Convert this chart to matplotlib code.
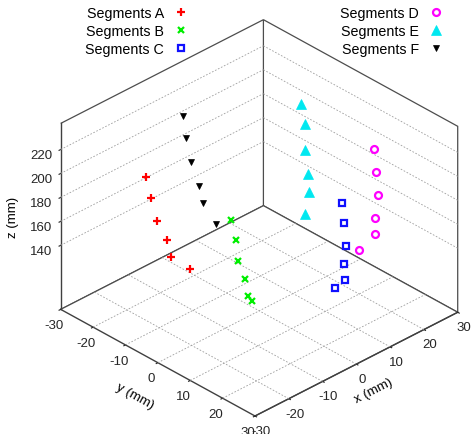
import numpy as np
import matplotlib
matplotlib.use('Agg')
import matplotlib.pyplot as plt

plt.rcParams['font.family'] = ['Liberation Sans', 'DejaVu Sans']
plt.rcParams['axes.unicode_minus'] = False

# ---------------- data (mm) ----------------
seg_a_x = [-25.0, -23.3, -21.6, -18.8, -17.6, -12.0]
seg_a_y = [-9.0, -9.0, -9.0, -9.0, -9.0, -9.0]
seg_a_z = [220.7, 201.0, 179.7, 159.8, 143.9, 125.8]

seg_b_x = [-19.8, -18.5, -17.7, -15.7, -14.9, -13.5]
seg_b_y = [12.0, 12.0, 12.0, 12.0, 12.0, 12.0]
seg_b_z = [208.9, 189.8, 171.6, 153.5, 138.1, 132.2]

seg_c_x = [7.3, 7.8, 8.3, 7.7, 8.2, 5.3]
seg_c_y = [18.0, 18.0, 18.0, 18.0, 18.0, 18.0]
seg_c_z = [192.5, 175.1, 155.6, 141.5, 127.3, 124.3]

seg_d_x = [16.6, 17.4, 17.9, 17.0, 17.0, 12.4]
seg_d_y = [18.0, 18.0, 18.0, 18.0, 18.0, 18.0]
seg_d_z = [224.2, 203.8, 183.7, 166.4, 152.8, 146.4]

seg_e_x = [18.0, 19.2, 19.4, 20.2, 20.4, 19.2]
seg_e_y = [-6.0, -6.0, -6.0, -6.0, -6.0, -6.0]
seg_e_z = [224.3, 205.6, 184.1, 162.3, 147.3, 130.9]

seg_f_x = [-5.4, -4.5, -2.8, -0.6, 0.6, 4.5]
seg_f_y = [-18.0, -18.0, -18.0, -18.0, -18.0, -18.0]
seg_f_z = [230.6, 210.8, 187.7, 165.0, 148.8, 126.1]

series_names = ['Segments A', 'Segments B', 'Segments C',
                'Segments D', 'Segments E', 'Segments F']

x_ticks = [-30, -20, -10, 0, 10, 20, 30]
y_ticks = [-30, -20, -10, 0, 10, 20, 30]
z_ticks = [140, 160, 180, 200, 220]
x_range = (-30, 30)
y_range = (-30, 30)
z_range = (86.5, 241.8)

# ---------------- figure ----------------
W, H = 477, 435
fig = plt.figure(figsize=(W / 100, H / 100), dpi=100)
ax = fig.add_axes([0, 0, 1, 1], projection='3d', proj_type='ortho',
                  computed_zorder=False)
ax.set_xlim(*x_range)
ax.set_ylim(y_range[1], y_range[0])   # reversed y, as in the reference
ax.set_zlim(*z_range)
ax.view_init(elev=32, azim=-134)
ax.set_box_aspect((281.8, 279.7, 219.3))

edge_col = '0.25'
for axis in (ax.xaxis, ax.yaxis, ax.zaxis):
    axis.set_pane_color((1, 1, 1, 1))
    axis.pane.set_edgecolor('0.3')
    axis.pane.set_linewidth(0.9)
    axis.line.set_color(edge_col)
    axis.line.set_linewidth(1.0)
    axis._axinfo['tick']['inward_factor'] = 0.1
    axis._axinfo['tick']['outward_factor'] = 0.0
    axis._axinfo['tick']['color'] = edge_col
ax.grid(False)

ax.set_xticks(x_ticks)
ax.set_yticks(y_ticks)
ax.set_zticks(z_ticks)
ax.tick_params(labelsize=9.5, colors='0.15')
ax.xaxis.set_tick_params(pad=-3)
ax.yaxis.set_tick_params(pad=-2.5)
ax.zaxis.set_tick_params(pad=0)

# grid lines: floor (x and y) and back walls (z)
gkw = dict(color='0.62', lw=0.6, ls=(0, (2, 2)), zorder=1)
zf = z_range[0]
for xv in x_ticks[1:-1]:
    ax.plot([xv, xv], list(y_range), [zf, zf], **gkw)
for yv in y_ticks[1:-1]:
    ax.plot(list(x_range), [yv, yv], [zf, zf], **gkw)
for zv in z_ticks:
    ax.plot(list(x_range), [y_range[0]] * 2, [zv, zv], **gkw)
    ax.plot([x_range[1]] * 2, list(y_range), [zv, zv], **gkw)

# ---------------- data points ----------------
styles = [
    dict(marker='+', color='#ff0000', ms=5.5, mew=1.6, mfc='#ff0000'),
    dict(marker='x', color='#00ee00', ms=5, mew=1.6, mfc='#00ee00'),
    dict(marker='s', color='#1010ff', ms=5, mew=1.6, mfc='none'),
    dict(marker='o', color='#ff00ff', ms=5, mew=1.6, mfc='none'),
    dict(marker='^', color='#00e8f0', ms=6.5, mew=0.5, mfc='#00e8f0'),
    dict(marker='v', color='#000000', ms=4.5, mew=0.5, mfc='#000000'),
]
data = [(seg_a_x, seg_a_y, seg_a_z), (seg_b_x, seg_b_y, seg_b_z),
        (seg_c_x, seg_c_y, seg_c_z), (seg_d_x, seg_d_y, seg_d_z),
        (seg_e_x, seg_e_y, seg_e_z), (seg_f_x, seg_f_y, seg_f_z)]
handles = []
for (xs, ys, zs), name, st in zip(data, series_names, styles):
    h, = ax.plot(xs, ys, zs, ls='none', label=name, zorder=10, **st)
    handles.append(h)

ax.set_xlabel('x (mm)', fontsize=9.5, labelpad=-6)
ax.set_ylabel('y (mm)', fontsize=9.5, labelpad=-2)
ax.set_zlabel('z (mm)', fontsize=9.5, labelpad=-1)

# ---------------- fit the box to the reference frame ----------------
fig.canvas.draw()


def to_px(x, y, z):
    M = ax.get_proj()
    v = M @ np.array([x, y, z, 1.0])
    return ax.transData.transform((v[0] / v[3], v[1] / v[3]))


L = to_px(x_range[0], y_range[0], z_range[0])
R = to_px(x_range[1], y_range[1], z_range[0])
F = to_px(x_range[0], y_range[1], z_range[0])
k = (457 - 60) / (R[0] - L[0])
bb = ax.get_position()
cx = (bb.x0 + bb.x1) / 2 * W
cy = (bb.y0 + bb.y1) / 2 * H
s = bb.width * W * k
tx, ty = 255, H - 417
ncx = tx - k * (F[0] - cx)
ncy = ty - k * (F[1] - cy)
ax.set_position([(ncx - s / 2) / W, (ncy - s / 2) / H, s / W, s / H])

# ---------------- legends ----------------
lkw = dict(frameon=False, markerfirst=False, fontsize=10.3, handlelength=1.2,
           handletextpad=0.6, labelspacing=0.28, borderpad=0, borderaxespad=0,
           loc='upper right', bbox_transform=fig.transFigure)
leg1 = fig.legend(handles=handles[:3], labels=series_names[:3],
                  bbox_to_anchor=(190 / W, 1 - 7 / H), **lkw)
leg2 = fig.legend(handles=handles[3:], labels=series_names[3:],
                  bbox_to_anchor=(445 / W, 1 - 7 / H), **lkw)

fig.savefig('out.png', dpi=100)
